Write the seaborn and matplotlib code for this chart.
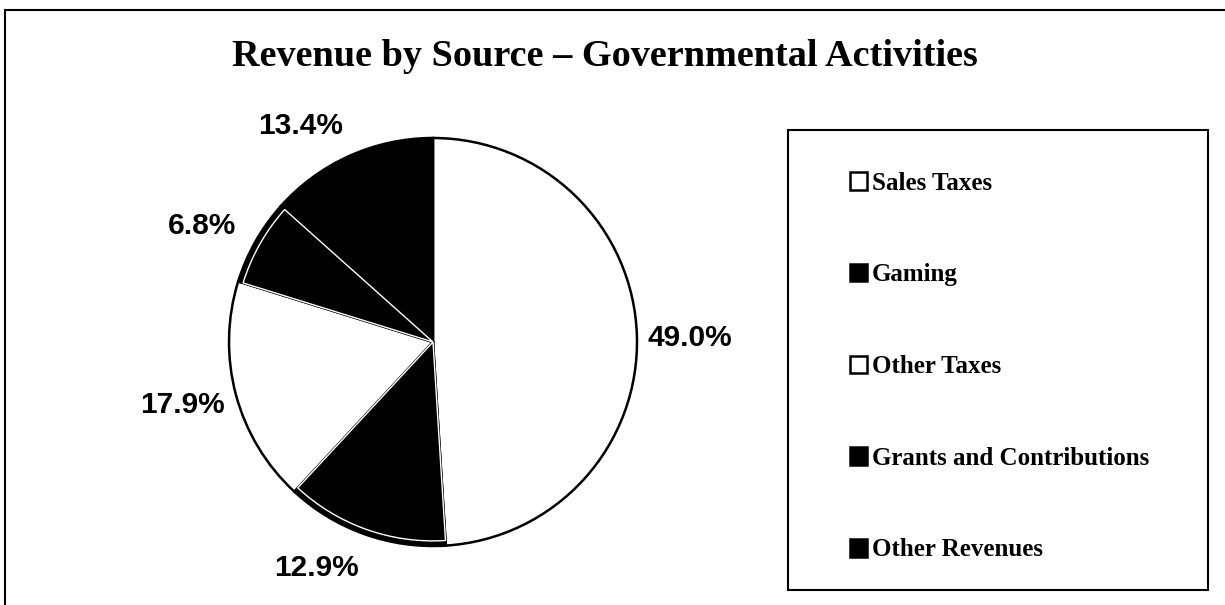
import matplotlib.pyplot as plt
import seaborn as sns
from matplotlib.lines import Line2D
from matplotlib.patches import Rectangle

sources = ['Sales Taxes', 'Gaming', 'Other Taxes', 'Grants and Contributions', 'Other Revenues']
shares = [49.0, 12.9, 17.9, 6.8, 13.4]
slice_colors = ['white', 'black', 'white', 'black', 'black']
rim_colors = ['none', 'white', 'none', 'white', 'none']

# where each percentage sits, in pie units (radius = 1)
label_pos = [(1.26, 0.02), (-0.57, -1.11), (-1.23, -0.31), (-1.13, 0.57), (-0.65, 1.06)]

sns.set_theme(style='white')
plt.rcParams['font.family'] = ['Liberation Serif', 'DejaVu Serif']
plt.rcParams['text.color'] = 'black'

fig = plt.figure(figsize=(12.25, 6.05), dpi=100)
W, H = 1225, 605

# outer frame (left and top edges show)
fig.add_artist(Line2D([5 / W, 5 / W], [0, 1 - 10 / H], color='black', lw=1.5))
fig.add_artist(Line2D([5 / W, 1], [1 - 10 / H, 1 - 10 / H], color='black', lw=1.5))

fig.text(605 / W, 1 - 56 / H, 'Revenue by Source \u2013 Governmental Activities',
         ha='center', va='center', fontsize=27.5, fontweight='bold', color='black',
         family=['Liberation Serif', 'DejaVu Serif'])

cx, cy, r = 433, 342, 204
ax = fig.add_axes([(cx - r) / W, (H - cy - r) / H, 2 * r / W, 2 * r / H])
wedges, _ = ax.pie(shares, colors=slice_colors, startangle=90, counterclock=False,
                   wedgeprops=dict(edgecolor='black', linewidth=1.8))
# thin white inner rim on the dark slices
rims, _ = ax.pie(shares, colors=['none'] * 5, startangle=90, counterclock=False, radius=0.975,
                 wedgeprops=dict(linewidth=1.0))
for w, c in zip(rims, rim_colors):
    w.set_edgecolor(c)
ax.set_xlim(-1, 1)
ax.set_ylim(-1, 1)
ax.set_aspect('auto')
ax.axis('off')

for val, (lx, ly) in zip(shares, label_pos):
    ax.text(lx, ly, f'{val:.1f}%', ha='center', va='center', fontsize=21.5, color='black',
            fontweight='bold', family=['Liberation Sans', 'DejaVu Sans'], clip_on=False)

# legend box
fig.add_artist(Rectangle((788 / W, 1 - 590 / H), 420 / W, 460 / H, transform=fig.transFigure,
                         fill=False, edgecolor='black', lw=1.5))
leg = fig.legend(wedges, sources, loc='upper left', bbox_to_anchor=(837 / W, 1 - 159 / H),
                 frameon=False, borderpad=0, handlelength=0.7, handleheight=0.7,
                 handletextpad=0.2, labelspacing=2.75, labelcolor='black',
                 prop={'family': ['Liberation Serif', 'DejaVu Serif'], 'weight': 'bold', 'size': 18})

fig.savefig('out.png', dpi=100)
